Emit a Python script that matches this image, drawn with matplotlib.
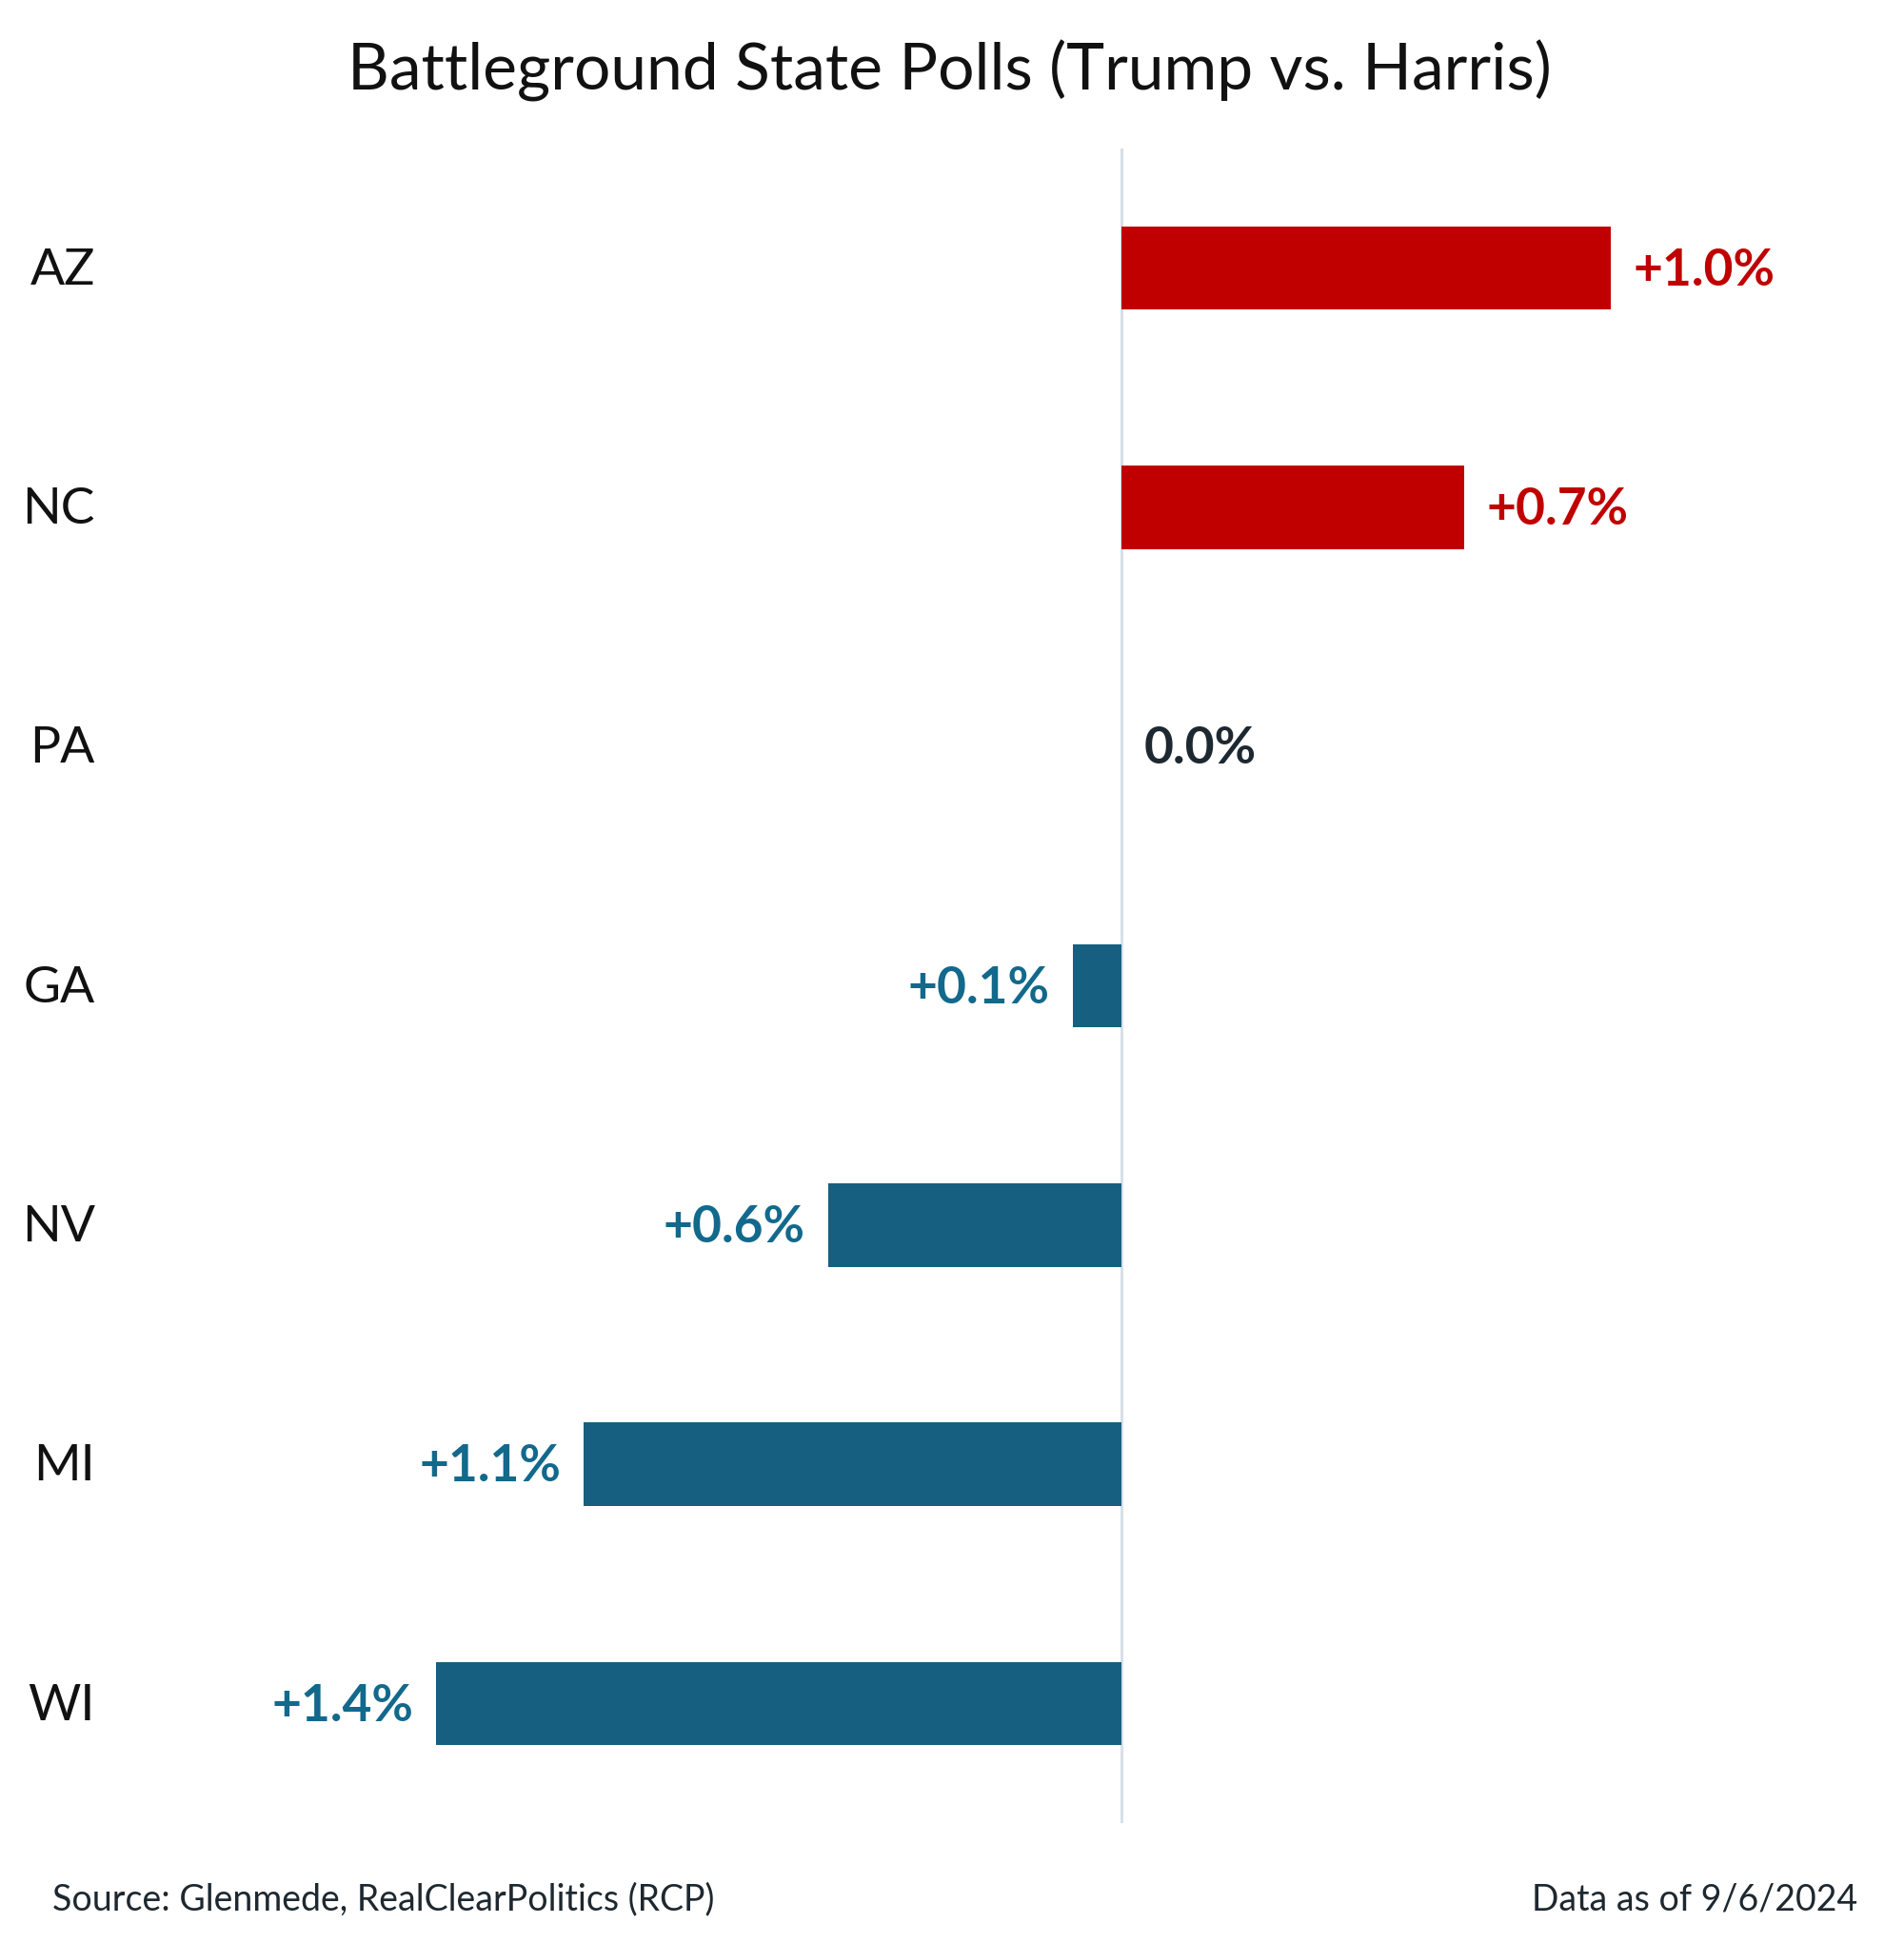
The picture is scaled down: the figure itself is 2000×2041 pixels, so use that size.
import numpy as np
import matplotlib.pyplot as plt

plt.rcParams['font.family'] = ['Lato', 'DejaVu Sans']

# data
states = ['AZ', 'NC', 'PA', 'GA', 'NV', 'MI', 'WI']
margins = [1.0, 0.7, 0.0, -0.1, -0.6, -1.1, -1.4]   # + Trump, - Harris
labels = ['+1.0%', '+0.7%', '0.0%', '+0.1%', '+0.6%', '+1.1%', '+1.4%']

red = '#c00000'
blue = '#175f80'
blue_txt = '#12698c'

fig = plt.figure(figsize=(20, 20.41), dpi=100)
ax = fig.add_axes([0, 0.0617, 1, 0.8619])

y = np.arange(len(states))
cols = [red if m > 0 else blue for m in margins]
ax.barh(y, margins, height=0.348, color=cols, zorder=2)
ax.axvline(0, color='#d8dfe8', lw=2.2, zorder=1)

ax.set_xlim(-1178 / 514, (2000 - 1178) / 514)
ax.set_ylim(6.5, -0.5)
ax.axis('off')

for i, (m, lab) in enumerate(zip(margins, labels)):
    if m > 0:
        c, ha, dx = red, 'left', 17
    elif m < 0:
        c, ha, dx = blue_txt, 'right', -17
    else:
        c, ha, dx = '#1e2830', 'left', 17
    ax.annotate(lab, (m, i), xytext=(dx, -2), textcoords='offset points',
                ha=ha, va='center', fontsize=38.3, fontweight='bold', color=c)
    ax.annotate(states[i], (0.05, i), xycoords=ax.get_yaxis_transform(),
                xytext=(0, -2), textcoords='offset points',
                ha='right', va='center', fontsize=38.5, color='#111111')

fig.text(0.4985, 0.9635, 'Battleground State Polls (Trump vs. Harris)',
         ha='center', va='center', fontsize=48.8, color='#111111')
fig.text(0.0275, 0.0222, 'Source: Glenmede, RealClearPolitics (RCP)',
         ha='left', va='center', fontsize=27, color='#1e2830')
fig.text(0.9755, 0.0222, 'Data as of 9/6/2024',
         ha='right', va='center', fontsize=27, color='#1e2830')

fig.savefig('out.png', dpi=100, facecolor='white')
